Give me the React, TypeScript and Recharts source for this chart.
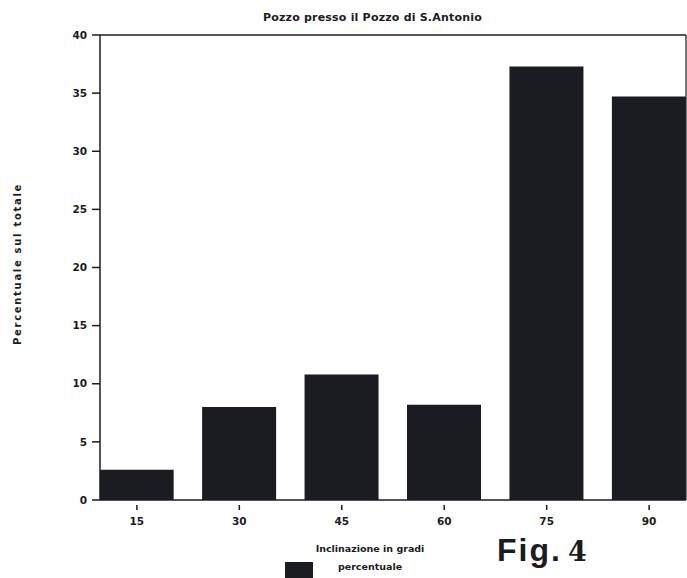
import React from 'react';
import { BarChart, Bar, XAxis, YAxis, ReferenceLine } from 'recharts';

// Inclinazione in gradi (categorie) e percentuale sul totale
const angles = [15, 30, 45, 60, 75, 90];
const percentages = [2.6, 8.0, 10.8, 8.2, 37.3, 34.7];
const yTicks = [0, 5, 10, 15, 20, 25, 30, 35, 40];

const data = angles.map((a, i) => ({ angle: a, pct: percentages[i] }));

const INK = '#1b1b22';
const FONT = '"DejaVu Sans", Arial, sans-serif';

const XTick = (props: any) => {
  const { x, y, payload } = props;
  return (
    <g>
      <line x1={x} x2={x} y1={y + 5} y2={y + 10} stroke={INK} strokeWidth={1.5} />
      <text x={x} y={y + 25} textAnchor="middle" fontSize={10.5} fontWeight="bold" fill={INK} fontFamily={FONT}>
        {payload.value}
      </text>
    </g>
  );
};

export default function App() {
  return (
    <div style={{ position: 'absolute', left: 0, top: 0, width: 687, height: 578, background: '#fff', overflow: 'hidden' }}>
      <div style={{ position: 'absolute', left: 263, top: 11, whiteSpace: 'nowrap', fontFamily: FONT, fontWeight: 'bold', fontSize: 11, letterSpacing: 0.2, color: INK }}>
        Pozzo presso il Pozzo di S.Antonio
      </div>
      <div style={{ position: 'absolute', left: 17, top: 264, transform: 'translate(-50%, -50%) rotate(-90deg)', whiteSpace: 'nowrap', fontFamily: FONT, fontWeight: 'bold', fontSize: 10, letterSpacing: 1.7, color: INK }}>
        Percentuale sul totale
      </div>
      {/* legenda */}
      <div style={{ position: 'absolute', left: 285, top: 562, width: 28, height: 16, background: INK }} />
      <div style={{ position: 'absolute', left: 300, width: 140, top: 543, textAlign: 'center', fontFamily: FONT, fontWeight: 'bold', fontSize: 9.5, color: INK }}>
        Inclinazione in gradi
      </div>
      <div style={{ position: 'absolute', left: 300, width: 140, top: 561, textAlign: 'center', fontFamily: FONT, fontWeight: 'bold', fontSize: 9.5, color: INK }}>
        percentuale
      </div>
      <div style={{ position: 'absolute', left: 497, top: 532, fontFamily: '"Liberation Sans", Arial, sans-serif', color: INK, whiteSpace: 'nowrap' }}>
        <span style={{ fontWeight: 'bold', fontSize: 32, letterSpacing: 2 }}>Fig.</span>
        <span style={{ fontSize: 27, fontWeight: 'bold', fontFamily: '"DejaVu Serif", serif', marginLeft: 6 }}>4</span>
      </div>
      <BarChart
        width={687}
        height={578}
        data={data}
        margin={{ top: 35, right: 1, bottom: 48, left: 40 }}
        style={{ position: 'absolute', left: 0, top: 0 }}
      >
        <XAxis
          type="number"
          dataKey="angle"
          domain={[9.6, 95.4]}
          ticks={angles}
          allowDataOverflow
          height={30}
          tickLine={false}
          tickSize={0}
          tickMargin={0}
          tick={<XTick />}
          axisLine={{ stroke: INK, strokeWidth: 1.5 }}
        />
        <YAxis
          domain={[0, 40]}
          ticks={yTicks}
          width={60}
          tickSize={8}
          tickMargin={5}
          axisLine={{ stroke: INK, strokeWidth: 1.5 }}
          tickLine={{ stroke: INK, strokeWidth: 1.5 }}
          tick={{ fill: INK, fontSize: 10.5, fontWeight: 'bold', fontFamily: FONT }}
        />
        <ReferenceLine y={40} stroke={INK} strokeWidth={1.5} />
        <ReferenceLine x={95.4} stroke={INK} strokeWidth={1.2} />
        <Bar dataKey="pct" fill={INK} barSize={74} isAnimationActive={false} />
      </BarChart>
    </div>
  );
}
